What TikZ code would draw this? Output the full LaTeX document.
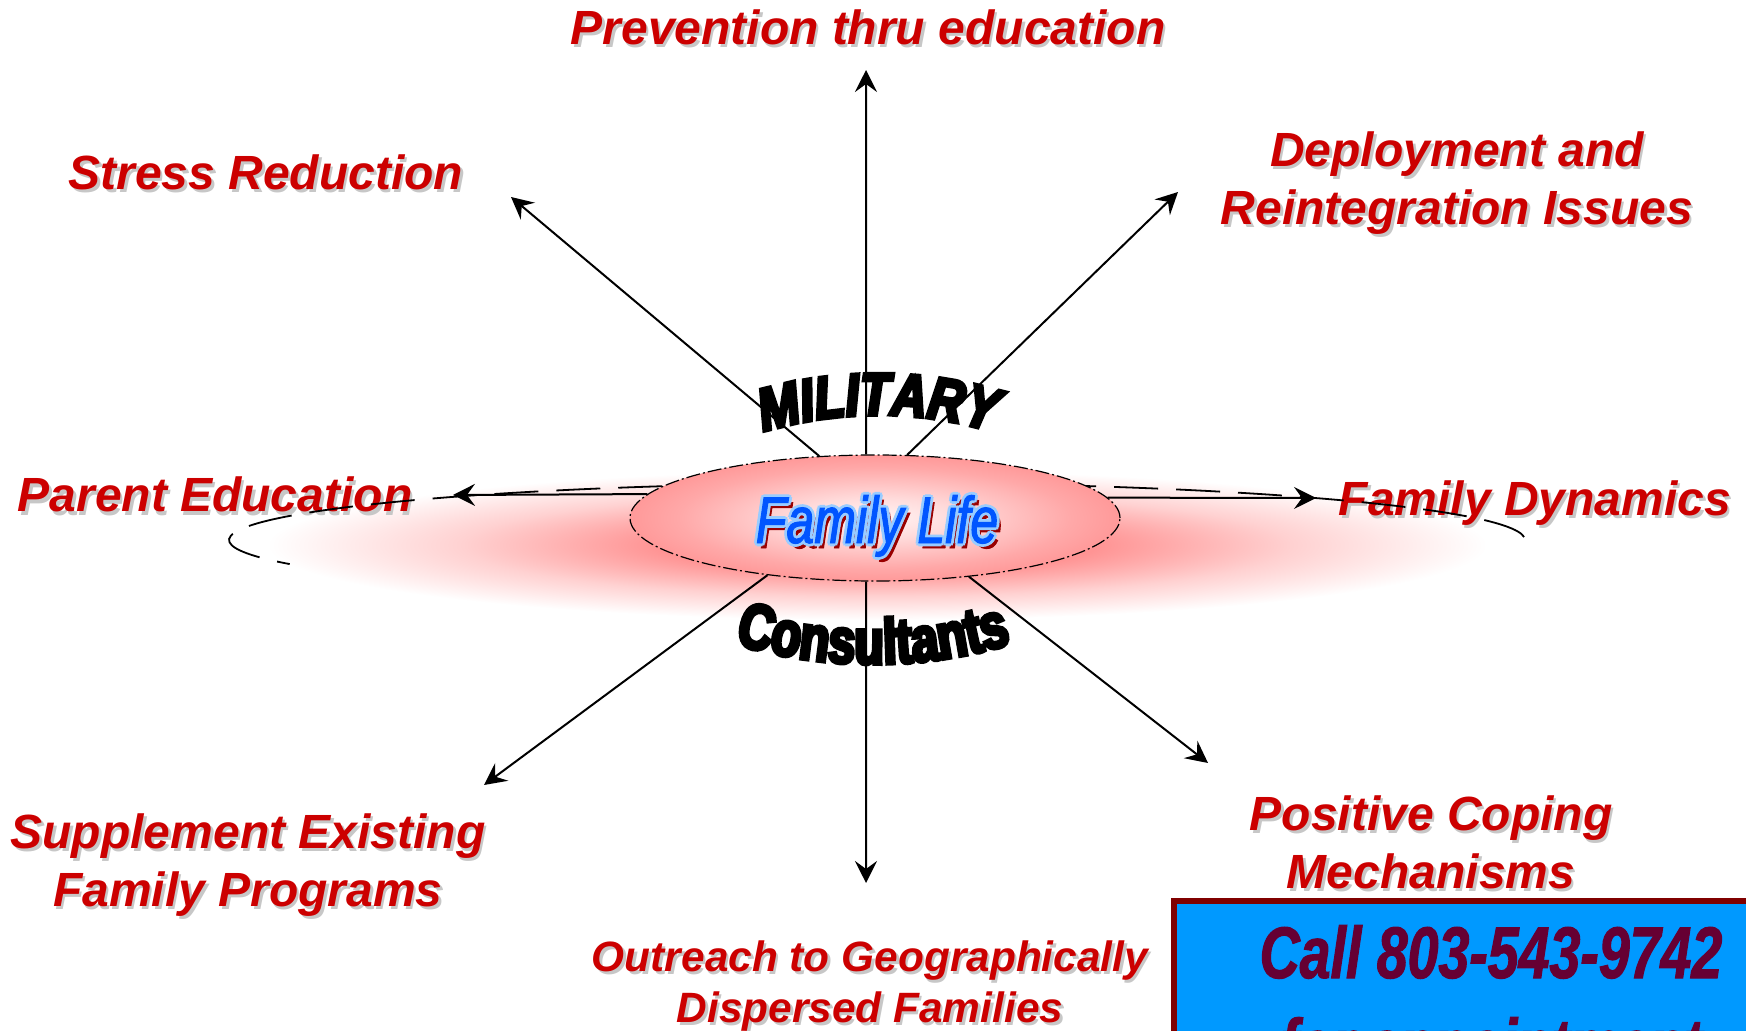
\documentclass[tikz,border=0pt]{standalone}
\usepackage{fontspec}
\setmainfont{Liberation Sans}
\newfontfamily\callfont{Liberation Sans}[FakeStretch=0.76, FakeBold=1.5]
\newfontfamily\milfont{Liberation Sans}[FakeStretch=0.82, FakeBold=6]
\newfontfamily\confont{Liberation Sans}[FakeStretch=0.76, FakeBold=6]
\newfontfamily\flfont{Liberation Sans}[FakeStretch=0.76, FakeBold=1.5]
\usetikzlibrary{arrows.meta, decorations.text, shapes.geometric}
\definecolor{lblred}{HTML}{CC0000}
\definecolor{boxblue}{HTML}{0099FF}
\definecolor{boxline}{HTML}{800000}
\definecolor{calltext}{HTML}{660033}
\definecolor{flblue}{HTML}{0055FF}
\definecolor{flout}{HTML}{99CCFF}
\definecolor{flshadow}{HTML}{990000}
\pgfdeclareradialshading{fglow}{\pgfpoint{0bp}{0bp}}{color(0bp)=(red!45); color(9bp)=(red!42); color(17bp)=(red!18); color(25bp)=(white); color(50bp)=(white)}
\pgfdeclareradialshading{fcore}{\pgfpoint{0bp}{0bp}}{color(0bp)=(red!4); color(8bp)=(red!14); color(20bp)=(red!34); color(25bp)=(red!40); color(50bp)=(red!40)}
\newcommand\milstyle{\milfont\bfseries\itshape\fontsize{30}{30}\selectfont}
\newcommand\constyle{\confont\bfseries\fontsize{32}{32}\selectfont}
\begin{document}
\begin{tikzpicture}[x=0.5pt, y=0.5pt,
  lbl/.style={text=lblred, font=\fontsize{24}{29}\selectfont\bfseries\itshape, inner sep=0pt, anchor=base, align=center},
  lblsh/.style={lbl, text=black!22, xshift=1.2pt, yshift=-1.5pt},
  olbl/.style={lbl, font=\fontsize{21.2}{25.5}\selectfont\bfseries\itshape},
  olblsh/.style={olbl, text=black!22, xshift=1.2pt, yshift=-1.5pt},
  conn/.style={line width=1pt, -{Stealth[length=11pt, width=11pt, inset=4pt]}},
  ring/.style={line width=0.9pt, dash pattern=on 22pt off 9pt},
  core/.style={ellipse, minimum width=245pt, minimum height=63pt, inner sep=0pt, shade, shading=fcore, draw, line width=0.6pt, dash pattern=on 7pt off 1.5pt on 1pt off 1.5pt},
  fltxt/.style={font=\flfont\itshape\fontsize{33}{33}\selectfont, inner sep=0pt, anchor=base},
  calltxt/.style={text=calltext, font=\callfont\bfseries\itshape\fontsize{36.5}{46}\selectfont, inner sep=0pt, anchor=base, align=center}
]
\useasboundingbox (0,0) rectangle (1746,1030);
\clip (0,0) rectangle (1746,1030);
% glow
\path[shade, shading=fglow] (877,485) ellipse [x radius=610, y radius=75];
% labels (anchor base = last line)
\node[lblsh] (prev-s) at (868,985) {Prevention thru education};
\node[lbl] (prev) at (868,985) {Prevention thru education};
\node[lblsh] (stress-s) at (266,840) {Stress Reduction};
\node[lbl] (stress) at (266,840) {Stress Reduction};
\node[lblsh] (deploy-s) at (1457,805) {Deployment and\\Reintegration Issues};
\node[lbl] (deploy) at (1457,805) {Deployment and\\Reintegration Issues};
\node[lblsh] (parent-s) at (215,518) {Parent Education};
\node[lbl] (parent) at (215,518) {Parent Education};
\node[lblsh] (dyn-s) at (1535,515) {Family Dynamics};
\node[lbl] (dyn) at (1535,515) {Family Dynamics};
\node[lblsh] (supp-s) at (248,124) {Supplement Existing\\Family Programs};
\node[lbl] (supp) at (248,124) {Supplement Existing\\Family Programs};
\node[lblsh] (cope-s) at (1431,142) {Positive Coping\\Mechanisms};
\node[lbl] (cope) at (1431,142) {Positive Coping\\Mechanisms};
\node[olblsh] (out-s) at (870,8) {Outreach to Geographically\\Dispersed Families};
\node[olbl] (out) at (870,8) {Outreach to Geographically\\Dispersed Families};
% outer dashed ring
\draw[ring] (877,490) ++(3:648 and 57) arc [start angle=3, end angle=205, x radius=648, y radius=57];
% centre ellipse
\node[core] (fl) at (875,512) {};
% arrow ends
\coordinate (tUp) at (866,960);
\coordinate (tUL) at (511,833);
\coordinate (tUR) at (1178,838);
\coordinate (tL) at (453,535);
\coordinate (tR) at (1316,532);
\coordinate (tLL) at (484,245);
\coordinate (tD) at (866,147);
\coordinate (tLR) at (1208,267);
\draw[conn] (fl.98) -- (tUp);
\draw[conn] (fl.132) -- (tUL);
\draw[conn] (fl.63) -- (tUR);
\draw[conn] (fl.174) -- (tL);
\draw[conn] (fl.5) -- (tR);
\draw[conn] (fl.208) -- (tLL);
\draw[conn] (fl.262) -- (tD);
\draw[conn] (fl.-32) -- (tLR);
% Family Life
\node[fltxt, text=flshadow] (fl-sh) at (881,482) {Family Life};
\foreach \a in {0,45,...,315}
  \node[fltxt, text=flout, shift={(\a:2.8)}] (fl-o\a) at (877,487) {Family Life};
\node[fltxt, text=flblue] (fl-t) at (877,487) {Family Life};
% arched words
\path[decorate, decoration={text along path, text align=center, text={|\milstyle|MILITARY}}]
  (878,215) ++(122:400) arc [start angle=122, end angle=58, radius=400];
\path[decorate, decoration={text along path, text align=center, text={|\constyle|Consultants}}]
  (873,848) ++(243:482) arc [start angle=243, end angle=297, radius=482];
% call box
\path[draw=boxline, fill=boxblue, line width=3pt] (1174,129) rectangle (1770,-30);
\node[calltxt] (call) at (1491,-40) {Call 803-543-9742\\for appointment};
\end{tikzpicture}
\end{document}
